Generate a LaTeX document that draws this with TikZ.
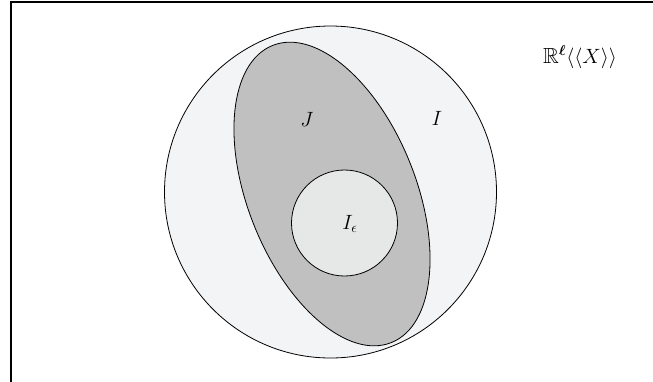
\documentclass[tikz,border=0pt]{standalone}
\usepackage{amssymb,amsmath,bm}
\begin{document}
\begin{tikzpicture}[x=1bp,y=-1bp,
  region/.style={draw=black,line width=0.8bp},
  lbl/.style={font=\fontsize{20}{24}\selectfont,inner sep=0pt}]
\definecolor{outerfill}{HTML}{F3F4F6}
\definecolor{ellfill}{HTML}{C0C0C0}
\definecolor{innerfill}{HTML}{E6E7E7}
\useasboundingbox (0,0) rectangle (653,381);
\clip (0,0) rectangle (653,381);
\draw[line width=1.8bp] (11,2) rectangle (700,420);
\draw[region,fill=outerfill] (330.5,192) circle[radius=166];
\draw[region,fill=ellfill] (332,194) ellipse[x radius=84,y radius=160,rotate=21.8];
\draw[region,fill=innerfill] (344.5,223) circle[radius=53];
\node[lbl] (J) at (307,119) {$J$};
\node[lbl] (I) at (437,118) {$I$};
\node[lbl] (Ie) at (350,224) {$I_\epsilon$};
\node[lbl,font=\fontsize{22}{26}\selectfont] (R) at (580,57) {$\mathbb{R}^{\bm{\ell}}\langle\langle X\rangle\rangle$};
\end{tikzpicture}
\end{document}
